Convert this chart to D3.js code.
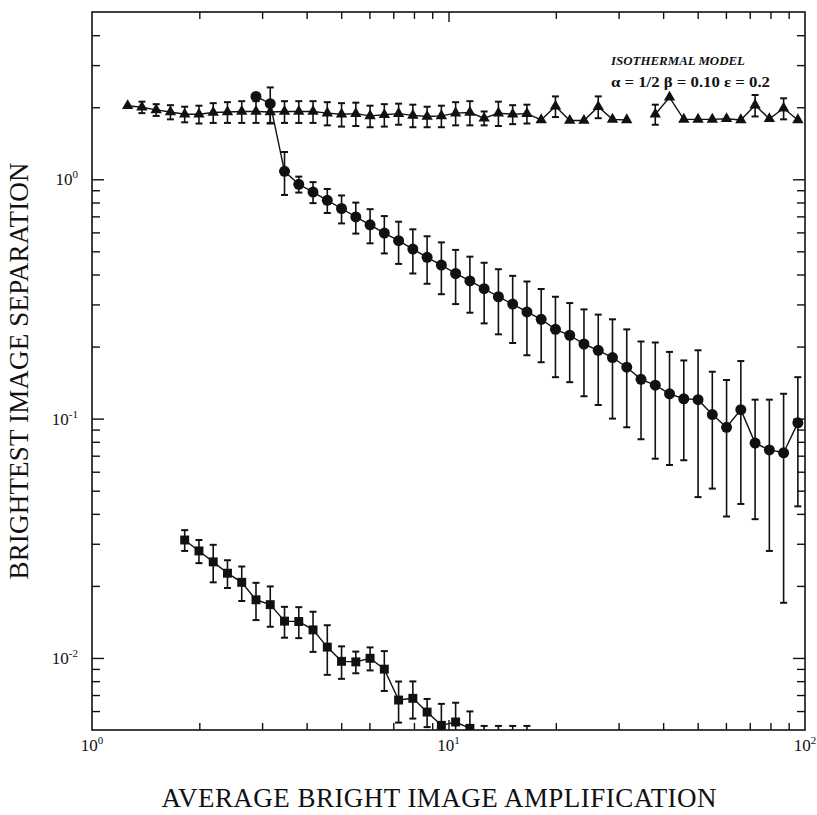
<!DOCTYPE html>
<html>
<head>
<meta charset="utf-8">
<script src="https://cdn.jsdelivr.net/npm/d3@7"></script>
<style>
  body { margin: 0; background: #fff; }
  svg { display: block; }
  text { font-family: "Liberation Serif", "DejaVu Serif", serif; fill: #111; }
</style>
</head>
<body>
<svg id="chart" width="817" height="815"></svg>
<script>
// Bin centres of the average bright-image amplification (log bins, 0.04 dex wide)
const amplification = [
  1.2589, 1.3804, 1.5136, 1.6596, 1.8197, 1.9953, 2.1878, 2.3988, 2.6303, 2.8840,
  3.1623, 3.4674, 3.8019, 4.1687, 4.5709, 5.0119, 5.4954, 6.0256, 6.6069, 7.2444,
  7.9433, 8.7096, 9.5499, 10.471, 11.482, 12.589, 13.804, 15.136, 16.596, 18.197,
  19.953, 21.878, 23.988, 26.303, 28.840, 31.623, 34.674, 38.019, 41.687, 45.709,
  50.119, 54.954, 60.256, 66.069, 72.444, 79.433, 87.096, 95.499
];

// Triangles: upper branch of the brightest-image separation
const triangleSep = [
  2.03, 2.00, 1.95, 1.91, 1.87, 1.87, 1.90, 1.91, 1.92, 1.92,
  1.91, 1.92, 1.92, 1.92, 1.89, 1.87, 1.88, 1.84, 1.86, 1.88,
  1.85, 1.83, 1.84, 1.89, 1.90, 1.80, 1.89, 1.87, 1.88, 1.77,
  2.02, 1.76, 1.76, 2.01, 1.78, 1.77, null, 1.87, 2.20, 1.78,
  1.78, 1.78, 1.79, 1.77, 2.04, 1.79, 1.98, 1.77
];
const triangleErr = [
  0, 0.11, 0.11, 0.13, 0.14, 0.16, 0.18, 0.19, 0.20, 0.20,
  0.20, 0.20, 0.20, 0.20, 0.21, 0.21, 0.21, 0.19, 0.20, 0.19,
  0.20, 0.18, 0.19, 0.21, 0.22, 0.12, 0.22, 0.17, 0.17, 0,
  0.20, 0, 0, 0.21, 0, 0, null, 0.18, 0, 0,
  0, 0, 0, 0, 0.21, 0, 0.20, 0
];

// Filled circles: middle branch
const circleSep = [
  null, null, null, null, null, null, null, null, null, 2.22,
  2.07, 1.08, 0.953, 0.884, 0.817, 0.755, 0.696, 0.645, 0.596, 0.554,
  0.511, 0.472, 0.438, 0.404, 0.376, 0.349, 0.323, 0.301, 0.279, 0.260,
  0.236, 0.223, 0.205, 0.193, 0.180, 0.164, 0.146, 0.138, 0.127, 0.121,
  0.120, 0.104, 0.092, 0.109, 0.079, 0.074, 0.072, 0.096
];
const circleErr = [
  null, null, null, null, null, null, null, null, null, 0,
  0.35, 0.22, 0.073, 0.089, 0.094, 0.101, 0.103, 0.105, 0.106, 0.111,
  0.107, 0.106, 0.107, 0.103, 0.099, 0.099, 0.098, 0.094, 0.095, 0.088,
  0.087, 0.081, 0.081, 0.079, 0.080, 0.072, 0.064, 0.070, 0.063, 0.054,
  0.073, 0.053, 0.053, 0.065, 0.041, 0.046, 0.055, 0.053
];

// Squares: lower branch
const squareSep = [
  null, null, null, null, 0.0311, 0.0280, 0.0252, 0.0226, 0.0207, 0.0175,
  0.0167, 0.01425, 0.0142, 0.0131, 0.0111, 0.00968, 0.00963, 0.00997, 0.00898, 0.00667,
  0.00678, 0.00594, 0.00523, 0.0054, 0.00508, 0.0044, 0.0044, 0.0044, 0.0044, null,
  null, null, null, null, null, null, null, null, null, null,
  null, null, null, null, null, null, null, null
];
const squareErr = [
  null, null, null, null, 0.0031, 0.0031, 0.0045, 0.0030, 0.0034, 0.0031,
  0.0032, 0.0021, 0.0021, 0.0025, 0.0026, 0.0015, 0.0010, 0.0011, 0.0017, 0.0013,
  0.0012, 0.0008, 0.0012, 0.0011, 0.0009, 0.0008, 0.0008, 0.0008, 0.0008, null,
  null, null, null, null, null, null, null, null, null, null,
  null, null, null, null, null, null, null, null
];

const xTitle = "AVERAGE BRIGHT IMAGE AMPLIFICATION";
const yTitle = "BRIGHTEST IMAGE SEPARATION";
const modelTitle = "ISOTHERMAL MODEL";
const modelParams = "\u03b1 = 1/2 \u03b2 = 0.10 \u03b5 = 0.2";

// ---- layout ----
const plot = { left: 92, right: 805, top: 12, bottom: 730 };
const svg = d3.select("#chart");

const x = d3.scaleLog().domain([1, 100]).range([plot.left, plot.right]);
const y = d3.scaleLog().domain([0.005, 5]).range([plot.bottom, plot.top]);

const isMajor = v => Math.abs(Math.log10(v) - Math.round(Math.log10(v))) < 1e-9;

svg.append("defs").append("clipPath").attr("id", "plotClip")
  .append("rect")
  .attr("x", plot.left).attr("y", plot.top)
  .attr("width", plot.right - plot.left).attr("height", plot.bottom - plot.top);

// ---- axes (inward ticks on all four sides) ----
const xTicks = x.ticks();
const yTicks = y.ticks().filter(v => v > 0.0051 && v < 4.9);
const xMinor = xTicks.filter(v => !isMajor(v));
const xMajor = xTicks.filter(isMajor).filter(v => v > 1 && v < 100);
const yMinor = yTicks.filter(v => !isMajor(v));
const yMajor = yTicks.filter(isMajor);

function styleAxis(g) {
  g.select(".domain").remove();
  g.selectAll(".tick line").attr("stroke", "#111").attr("stroke-width", 1.4);
  g.selectAll(".tick text").remove();
}

const axes = [
  [d3.axisBottom(x), `translate(0,${plot.bottom})`, xMinor, xMajor, 7, 10],
  [d3.axisTop(x), `translate(0,${plot.top})`, xMinor, xMajor, 7, 10],
  [d3.axisLeft(y), `translate(${plot.left},0)`, yMinor, yMajor, 8, 12],
  [d3.axisRight(y), `translate(${plot.right},0)`, yMinor, yMajor, 8, 12]
];
axes.forEach(([ax, tr, minor, major, lenMinor, lenMajor]) => {
  svg.append("g").attr("transform", tr)
    .call(ax.tickValues(minor).tickSize(-lenMinor).tickFormat(""))
    .call(styleAxis);
  svg.append("g").attr("transform", tr)
    .call(ax.tickValues(major).tickSize(-lenMajor).tickFormat(""))
    .call(styleAxis);
});

// frame
svg.append("rect")
  .attr("x", plot.left).attr("y", plot.top)
  .attr("width", plot.right - plot.left).attr("height", plot.bottom - plot.top)
  .attr("fill", "none").attr("stroke", "#111").attr("stroke-width", 1.6);

// tick labels as powers of ten
function powerLabel(sel, v) {
  const e = Math.round(Math.log10(v));
  sel.append("tspan").text("10");
  sel.append("tspan").attr("dy", -7).attr("font-size", 11).text(String(e));
}
[1, 10, 100].forEach(v => {
  const t = svg.append("text")
    .attr("x", x(v)).attr("y", plot.bottom + 21)
    .attr("text-anchor", "middle").attr("font-size", 17);
  powerLabel(t, v);
});
[0.01, 0.1, 1].forEach(v => {
  const t = svg.append("text")
    .attr("x", 78).attr("y", y(v) + 6)
    .attr("text-anchor", "end").attr("font-size", 17);
  powerLabel(t, v);
});

// axis titles
svg.append("text")
  .attr("x", 439).attr("y", 807)
  .attr("text-anchor", "middle").attr("font-size", 27)
  .attr("textLength", 555).attr("lengthAdjust", "spacing")
  .text(xTitle);
svg.append("text")
  .attr("transform", `translate(28,371) rotate(-90)`)
  .attr("text-anchor", "middle").attr("font-size", 27)
  .attr("textLength", 417).attr("lengthAdjust", "spacing")
  .text(yTitle);

// model annotation
svg.append("text")
  .attr("x", 611).attr("y", 65)
  .attr("font-size", 13).attr("font-weight", "bold").attr("font-style", "italic")
  .attr("textLength", 134).attr("lengthAdjust", "spacingAndGlyphs")
  .text(modelTitle);
svg.append("text")
  .attr("x", 611).attr("y", 87)
  .attr("font-size", 14).attr("font-weight", "bold")
  .attr("textLength", 159).attr("lengthAdjust", "spacingAndGlyphs")
  .text(modelParams);

// ---- data series ----
const dataLayer = svg.append("g").attr("clip-path", "url(#plotClip)");

function drawSeries(values, errors, symbolType, symbolSize) {
  const pts = amplification.map((a, i) => ({ a, v: values[i], e: errors[i] }));
  const line = d3.line()
    .defined(d => d.v != null)
    .x(d => x(d.a)).y(d => y(d.v));
  dataLayer.append("path")
    .attr("d", line(pts))
    .attr("fill", "none").attr("stroke", "#111").attr("stroke-width", 1.4);

  const valid = pts.filter(d => d.v != null);
  const capHalf = 3.5;
  const bars = dataLayer.append("g").attr("stroke", "#111");
  valid.filter(d => d.e > 0).forEach(d => {
    const cx = x(d.a);
    const lo = Math.max(d.v - d.e, 1e-4);
    const yTop = y(d.v + d.e), yBot = y(lo);
    bars.append("line").attr("x1", cx).attr("x2", cx).attr("y1", yTop).attr("y2", yBot)
      .attr("stroke-width", 1.6);
    [yTop, yBot].forEach(yy => bars.append("line")
      .attr("x1", cx - capHalf).attr("x2", cx + capHalf).attr("y1", yy).attr("y2", yy)
      .attr("stroke-width", 2));
  });

  const sym = d3.symbol().type(symbolType).size(symbolSize);
  dataLayer.append("g").selectAll("path").data(valid).join("path")
    .attr("transform", d => `translate(${x(d.a)},${y(d.v)})`)
    .attr("d", sym)
    .attr("fill", "#111");
}

drawSeries(triangleSep, triangleErr, d3.symbolTriangle, 56);
drawSeries(circleSep, circleErr, d3.symbolCircle, 95);
drawSeries(squareSep, squareErr, d3.symbolSquare, 80);
</script>
</body>
</html>
